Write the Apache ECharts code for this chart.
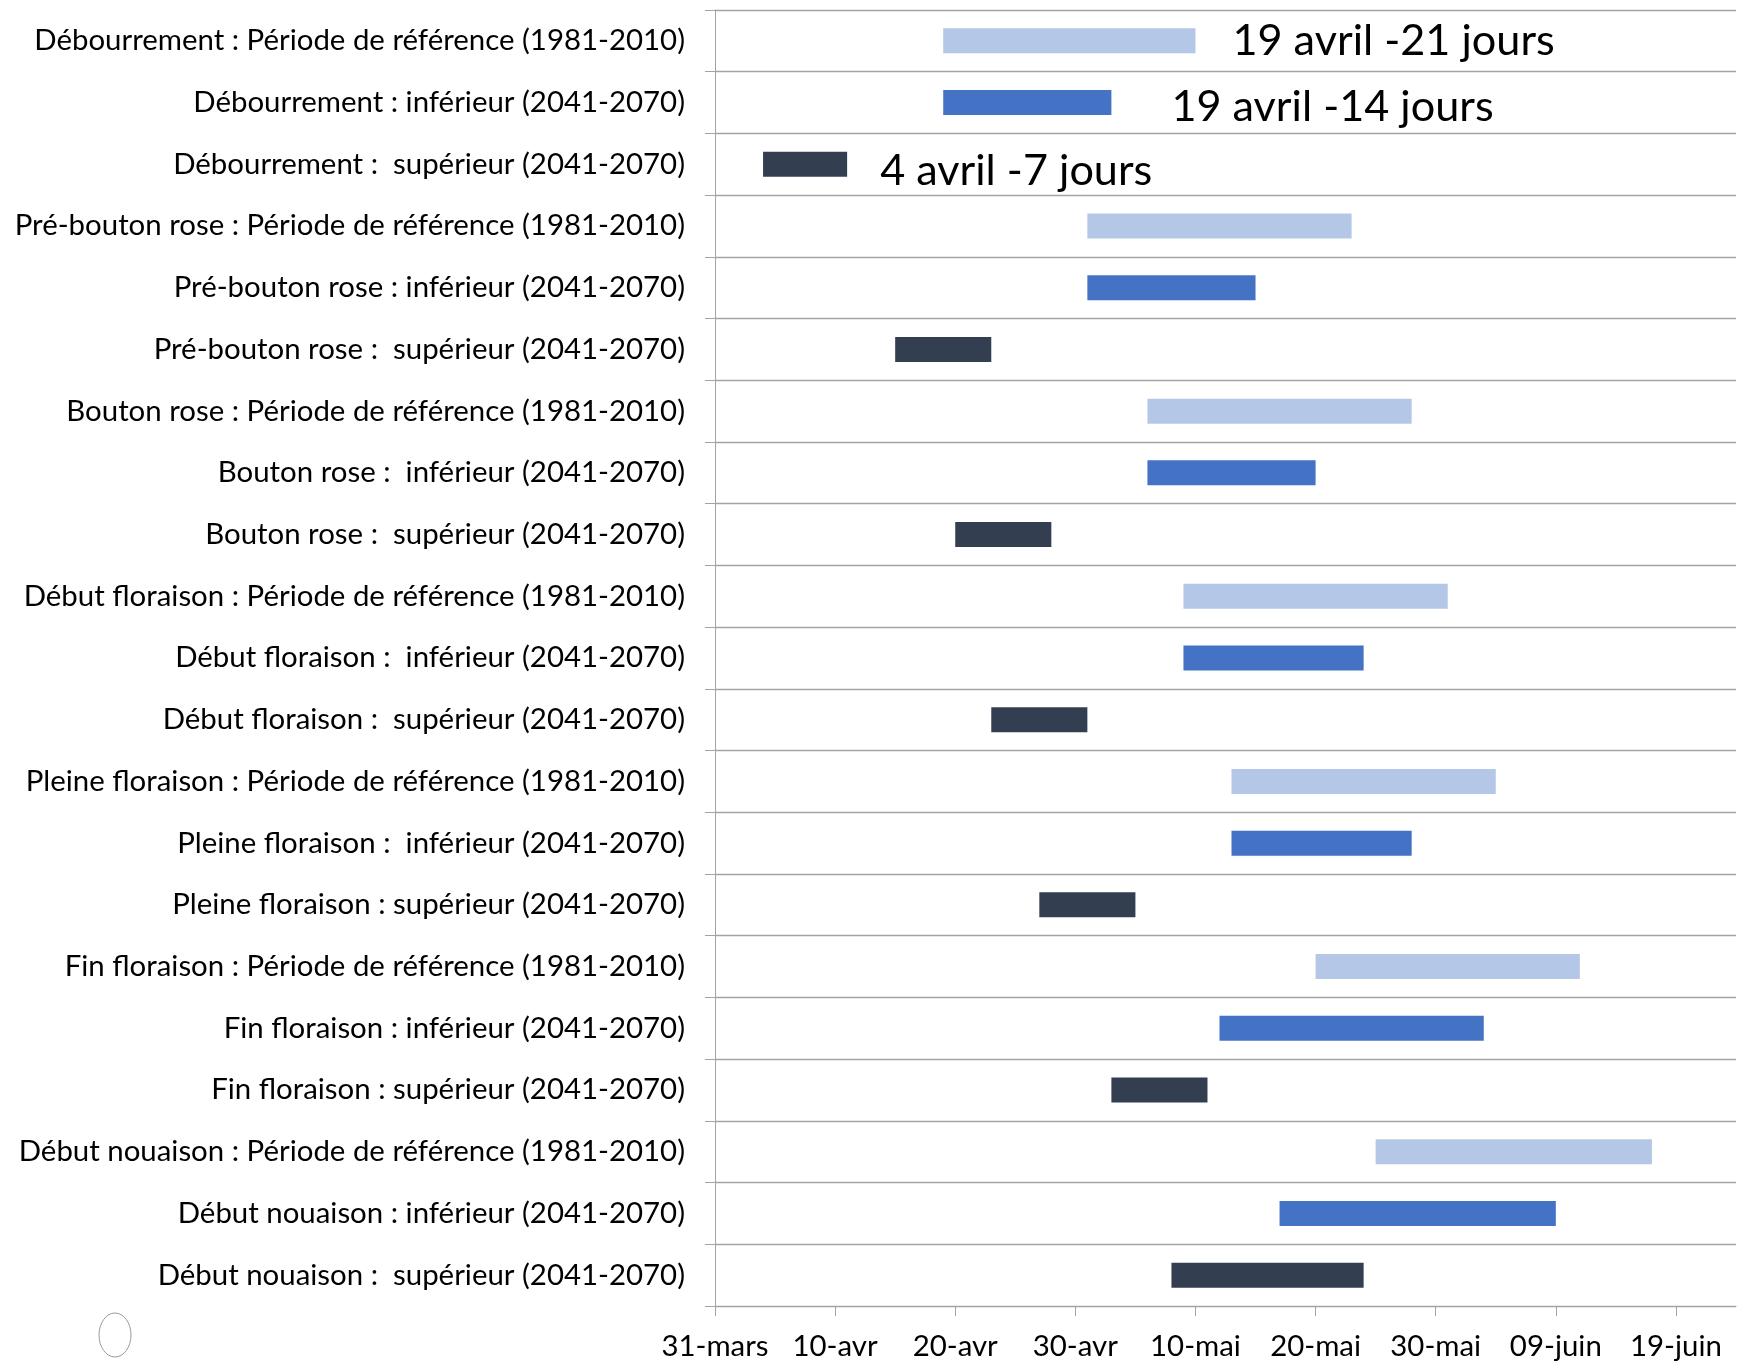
<!DOCTYPE html>
<html>
<head>
<meta charset="utf-8">
<script src="https://cdn.jsdelivr.net/npm/echarts@6/dist/echarts.min.js"></script>
<style>
  html, body { margin: 0; padding: 0; background: #ffffff; }
  #chart { width: 1745px; height: 1363px; }
</style>
</head>
<body>
<div id="chart"></div>
<script>
// Phenological stages: reference period vs. lower / upper projections (2041-2070)
const categories = [
  'Débourrement : Période de référence (1981-2010)',
  'Débourrement : inférieur (2041-2070)',
  'Débourrement :  supérieur (2041-2070)',
  'Pré-bouton rose : Période de référence (1981-2010)',
  'Pré-bouton rose : inférieur (2041-2070)',
  'Pré-bouton rose :  supérieur (2041-2070)',
  'Bouton rose : Période de référence (1981-2010)',
  'Bouton rose :  inférieur (2041-2070)',
  'Bouton rose :  supérieur (2041-2070)',
  'Début floraison : Période de référence (1981-2010)',
  'Début floraison :  inférieur (2041-2070)',
  'Début floraison :  supérieur (2041-2070)',
  'Pleine floraison : Période de référence (1981-2010)',
  'Pleine floraison :  inférieur (2041-2070)',
  'Pleine floraison : supérieur (2041-2070)',
  'Fin floraison : Période de référence (1981-2010)',
  'Fin floraison : inférieur (2041-2070)',
  'Fin floraison : supérieur (2041-2070)',
  'Début nouaison : Période de référence (1981-2010)',
  'Début nouaison : inférieur (2041-2070)',
  'Début nouaison :  supérieur (2041-2070)'
];

// Start date (MM-DD) of each stage window
const startDates = [
  '04-19', '04-19', '04-04',
  '05-01', '05-01', '04-15',
  '05-06', '05-06', '04-20',
  '05-09', '05-09', '04-23',
  '05-13', '05-13', '04-27',
  '05-20', '05-12', '05-03',
  '05-25', '05-17', '05-08'
];

// Length of each window, in days
const durations = [
  21, 14, 7,
  22, 14, 8,
  22, 14, 8,
  22, 15, 8,
  22, 15, 8,
  22, 22, 8,
  23, 23, 16
];

const tickLabels = ['31-mars', '10-avr', '20-avr', '30-avr', '10-mai', '20-mai', '30-mai', '09-juin', '19-juin'];
const monthNames = { '03': 'mars', '04': 'avril', '05': 'mai', '06': 'juin' };

// Rows carrying a text annotation
const annotatedRows = [0, 1, 2];

// --- scale helpers -------------------------------------------------------
const ORIGIN = Date.UTC(2021, 2, 31); // 31 mars
function dayOffset(mmdd) {
  const [m, d] = mmdd.split('-').map(Number);
  return Math.round((Date.UTC(2021, m - 1, d) - ORIGIN) / 86400000);
}
function annotationText(i) {
  const [m, d] = startDates[i].split('-');
  return Number(d) + ' ' + monthNames[m] + ' -' + durations[i] + ' jours';
}

const FONT = 'Lato';
const ctx = document.createElement('canvas').getContext('2d');
function widthAt(text, size) {
  ctx.font = size + 'px ' + FONT;
  return ctx.measureText(text).width;
}
const labelSize = Math.round(100 * 652 / widthAt(categories[0], 100) * 10) / 10;
const bigSize = Math.round(100 * 322 / widthAt(annotationText(0), 100) * 10) / 10;

const palette = ['#b4c7e7', '#4472c4', '#333f50'];
const gridColor = '#a3a3a3';

// label placement for the annotated rows: [gap after bar end, vertical shift]
const annotationOffsets = [[37, 0], [60, 4], [33, 7]];

const offsets = startDates.map(dayOffset);

const durationData = durations.map((v, i) => {
  const item = { value: v, itemStyle: { color: palette[i % 3] } };
  const k = annotatedRows.indexOf(i);
  if (k >= 0) {
    item.label = {
      show: true,
      position: 'right',
      distance: 0,
      offset: annotationOffsets[k],
      formatter: annotationText(i),
      fontFamily: FONT,
      fontSize: bigSize,
      color: '#000000'
    };
  }
  return item;
});

const chart = echarts.init(document.getElementById('chart'), null, { renderer: 'canvas' });

chart.setOption({
  backgroundColor: '#ffffff',
  animation: false,
  grid: {
    left: 715,
    right: 9,
    top: 10,
    bottom: 57,
    containLabel: false,
    outerBoundsMode: 'none'
  },
  xAxis: {
    type: 'value',
    min: 0,
    max: 85,
    interval: 10,
    splitLine: { show: false },
    axisLine: { show: true, lineStyle: { color: gridColor, width: 1 } },
    axisTick: {
      show: true,
      length: 10,
      lineStyle: { color: gridColor, width: 1 },
      customValues: tickLabels.map((_, i) => i * 10)
    },
    axisLabel: {
      show: true,
      margin: 26,
      fontFamily: FONT,
      fontSize: labelSize,
      color: '#000000',
      customValues: tickLabels.map((_, i) => i * 10),
      formatter: v => tickLabels[Math.round(v / 10)] || ''
    }
  },
  yAxis: {
    type: 'category',
    inverse: true,
    data: categories,
    axisLine: { show: true, lineStyle: { color: gridColor, width: 1 } },
    axisTick: { show: true, length: 10, lineStyle: { color: gridColor, width: 1 } },
    splitLine: { show: true, lineStyle: { color: gridColor, width: 1.4 } },
    axisLabel: {
      margin: 30,
      fontFamily: FONT,
      fontSize: labelSize,
      color: '#000000',
      interval: 0
    }
  },
  series: [
    {
      name: 'début',
      type: 'bar',
      stack: 'fenetre',
      barWidth: 25,
      silent: true,
      itemStyle: { color: 'rgba(0,0,0,0)' },
      data: offsets
    },
    {
      name: 'durée',
      type: 'bar',
      stack: 'fenetre',
      barWidth: 25,
      data: durationData
    }
  ],
  graphic: [
    {
      type: 'ellipse',
      shape: { cx: 115, cy: 1335, rx: 16, ry: 22 },
      style: { fill: 'none', stroke: '#9a9a9a', lineWidth: 1 }
    }
  ]
});
</script>
</body>
</html>
